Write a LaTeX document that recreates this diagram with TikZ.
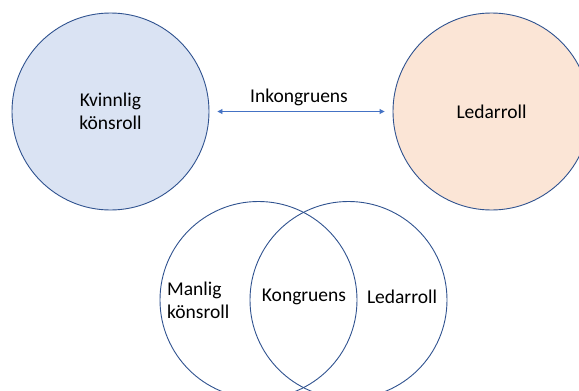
\documentclass[tikz,border=0pt]{standalone}
\usepackage{fontspec}
\setmainfont{Carlito}
\usetikzlibrary{arrows.meta}
\definecolor{femfill}{HTML}{DAE3F3}
\definecolor{leadfill}{HTML}{FBE5D6}
\definecolor{ringc}{HTML}{2F528F}
\definecolor{arrowc}{HTML}{4472C4}
\tikzset{
  role/.style={circle, draw=ringc, line width=0.9pt, minimum size=197pt, inner sep=0pt,
               align=center, font=\fontsize{19.5}{23}\selectfont},
  ring/.style={circle, draw=ringc, line width=0.9pt, minimum size=197pt, inner sep=0pt},
  lbl/.style={font=\fontsize{19.5}{23}\selectfont, inner sep=0pt, align=center},
  link/.style={{Triangle[length=5pt,width=5pt]}-{Triangle[length=5pt,width=5pt]},
               arrowc, line width=0.9pt, shorten <=8pt, shorten >=8pt},
}
\begin{document}
\begin{tikzpicture}[x=1pt, y=-1pt]
\useasboundingbox (0,0) rectangle (579,391);
\clip (0,0) rectangle (579,391);

% the two roles, apart
\node[role, fill=femfill] (fem) at (110.5,111.5) {Kvinnlig\\könsroll};
\node[role, fill=leadfill] (lead) at (491.5,111.5) {Ledarroll};
\draw[link] (fem.east) -- (lead.west);
\node[lbl] (incong) at (299,97) {Inkongruens};

% the two roles, overlapping
\node[ring] (male) at (258.5,300) {};
\node[ring] (lead2) at (348.5,300) {};
\node[lbl, anchor=west, align=left] (malelbl) at (167,300) {Manlig\\könsroll};
\node[lbl] (cong) at (304,297) {Kongruens};
\node[lbl] (leadlbl) at (402,297) {Ledarroll};
\end{tikzpicture}
\end{document}
